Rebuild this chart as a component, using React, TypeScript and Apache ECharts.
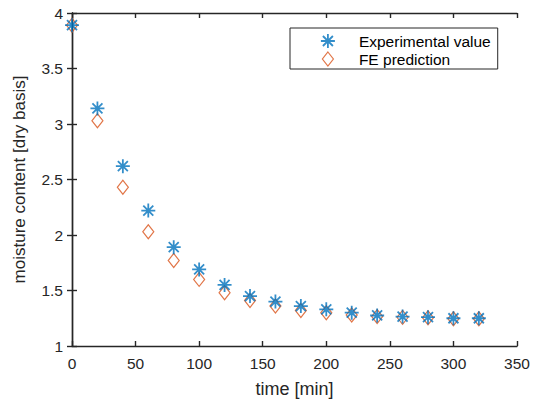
import React, { useEffect, useRef } from "react";
import * as echarts from "echarts";

const times = [0, 20, 40, 60, 80, 100, 120, 140, 160, 180, 200, 220, 240, 260, 280, 300, 320];
const experimental = [3.89, 3.14, 2.62, 2.22, 1.89, 1.69, 1.55, 1.45, 1.40, 1.36, 1.33, 1.30, 1.275, 1.265, 1.26, 1.25, 1.25];
const fePrediction = [3.89, 3.03, 2.43, 2.03, 1.77, 1.60, 1.48, 1.41, 1.36, 1.32, 1.30, 1.28, 1.265, 1.258, 1.255, 1.245, 1.245];
const seriesNames = ["Experimental value", "FE prediction"];
const xTitle = "time [min]";
const yTitle = "moisture content [dry basis]";

const BLUE = "#0072BD";
const ORANGE = "#D95319";
const AXIS = "#262626";
const FONT = "Liberation Sans, Arial, Helvetica, sans-serif";
const ASTERISK = "path://M0,-7L0,7M-7,0L7,0M-5,-5L5,5M-5,5L5,-5";
const DIAMOND = "path://M0,-7L5.5,0L0,7L-5.5,0Z";

export default function App() {
  const ref = useRef<HTMLDivElement>(null);
  useEffect(() => {
    if (!ref.current) return;
    const chart = echarts.init(ref.current, null, { renderer: "svg" });
    const axisCommon = {
      axisLine: { show: true, lineStyle: { color: AXIS, width: 1.4 } },
      axisTick: { show: true, inside: true, length: 5, lineStyle: { color: AXIS, width: 1.4 } },
      splitLine: { show: false },
    };
    chart.setOption({
      animation: false,
      backgroundColor: "#ffffff",
      textStyle: { fontFamily: FONT },
      grid: { left: 72, right: 22, top: 13, bottom: 53 },
      legend: {
        orient: "vertical",
        left: 290,
        top: 28,
        itemWidth: 52,
        itemHeight: 14,
        itemGap: 2,
        padding: [5, 7, 2, 30],
        borderColor: AXIS,
        borderWidth: 1,
        backgroundColor: "#ffffff",
        symbolKeepAspect: true,
        textStyle: { fontSize: 15.5, color: "#000", fontFamily: FONT },
        data: [
          {
            name: seriesNames[0],
            icon: ASTERISK,
            itemStyle: { color: BLUE, borderColor: BLUE, borderWidth: 1.8 },
          },
          {
            name: seriesNames[1],
            icon: DIAMOND,
            itemStyle: { color: "rgba(255,255,255,0)", borderColor: ORANGE, borderWidth: 1.2 },
          },
        ],
      },
      xAxis: [
        {
          type: "value",
          min: 0,
          max: 350,
          interval: 50,
          position: "bottom",
          ...axisCommon,
          axisLabel: { fontSize: 15.5, color: AXIS, margin: 9, fontFamily: FONT },
          name: xTitle,
          nameLocation: "middle",
          nameGap: 34,
          nameTextStyle: { fontSize: 18, color: AXIS, fontFamily: FONT },
        },
        {
          type: "value",
          min: 0,
          max: 350,
          interval: 50,
          position: "top",
          ...axisCommon,
          axisLabel: { show: false },
        },
      ],
      yAxis: [
        {
          type: "value",
          min: 1,
          max: 4,
          interval: 0.5,
          position: "left",
          ...axisCommon,
          axisLabel: { fontSize: 15.5, color: AXIS, margin: 9, fontFamily: FONT },
          name: yTitle,
          nameLocation: "middle",
          nameGap: 44,
          nameTextStyle: { fontSize: 17, color: AXIS, fontFamily: FONT },
        },
        {
          type: "value",
          min: 1,
          max: 4,
          interval: 0.5,
          position: "right",
          ...axisCommon,
          axisLabel: { show: false },
        },
      ],
      series: [
        {
          name: seriesNames[1],
          type: "scatter",
          symbol: DIAMOND,
          symbolSize: [11, 14],
          itemStyle: { color: "rgba(255,255,255,0)", borderColor: ORANGE, borderWidth: 1.2 },
          data: times.map((t, i) => [t, fePrediction[i]]),
          z: 2,
        },
        {
          name: seriesNames[0],
          type: "scatter",
          symbol: ASTERISK,
          symbolSize: 14,
          itemStyle: { color: BLUE, borderColor: BLUE, borderWidth: 1.8 },
          data: times.map((t, i) => [t, experimental[i]]),
          z: 3,
        },
      ],
    });
    return () => chart.dispose();
  }, []);
  return (
    <div
      ref={ref}
      style={{ position: "fixed", left: 0, top: 0, width: 539, height: 403, background: "#fff" }}
    />
  );
}
